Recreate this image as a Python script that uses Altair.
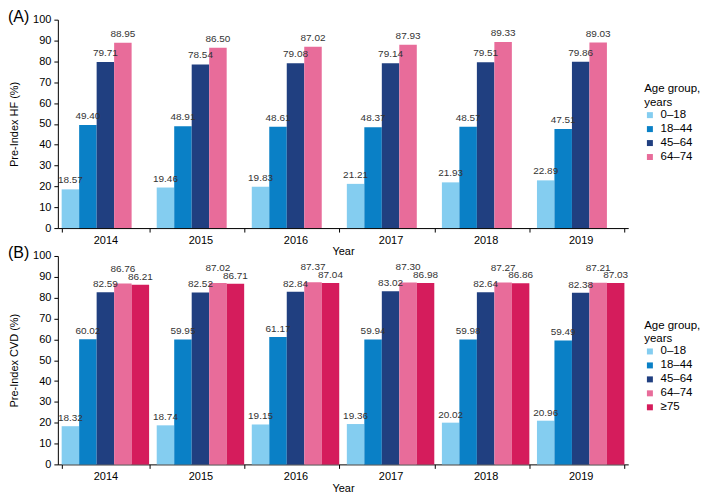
import altair as alt
import pandas as pd

years = ["2014", "2015", "2016", "2017", "2018", "2019"]
groups_a = ["0–18", "18–44", "45–64", "64–74"]
groups_b = ["0–18", "18–44", "45–64", "64–74", "≥75"]
colors_a = ["#84CDF0", "#0A80C6", "#203F80", "#E86C9A"]
colors_b = ["#84CDF0", "#0A80C6", "#203F80", "#E86C9A", "#D51C5C"]

hf_0_18 = [18.57, 19.46, 19.83, 21.21, 21.93, 22.89]
hf_18_44 = [49.40, 48.91, 48.61, 48.37, 48.57, 47.51]
hf_45_64 = [79.71, 78.54, 79.08, 79.14, 79.51, 79.86]
hf_64_74 = [88.95, 86.50, 87.02, 87.93, 89.33, 89.03]

cvd_0_18 = [18.32, 18.74, 19.15, 19.36, 20.02, 20.96]
cvd_18_44 = [60.02, 59.95, 61.17, 59.94, 59.98, 59.49]
cvd_45_64 = [82.59, 82.52, 82.84, 83.02, 82.64, 82.38]
cvd_64_74 = [86.76, 87.02, 87.37, 87.30, 87.27, 87.21]
cvd_75 = [86.21, 86.71, 87.04, 86.98, 86.86, 87.03]


def make_df(groups, series):
    rows = []
    for g, vals in zip(groups, series):
        for y, v in zip(years, vals):
            rows.append({"Year": y, "Group": g, "Value": v})
    return pd.DataFrame(rows)


df_a = make_df(groups_a, [hf_0_18, hf_18_44, hf_45_64, hf_64_74])
df_b = make_df(groups_b, [cvd_0_18, cvd_18_44, cvd_45_64, cvd_64_74, cvd_75])

FONT = "Liberation Sans"
NARROW = "Liberation Sans Narrow, Arial Narrow, Liberation Sans"
W, H = 572, 209
NB = "\u00a0"
LABEL_EXPR = ("datum.value == '0–18' ? '" + NB * 2 + "' + datum.label : "
              "datum.value == '≥75' ? '" + NB * 4 + "' + datum.label : datum.label")


def panel(df, groups, colors, ytitle, tag, raise_group=None):
    x = alt.X("Year:N", sort=years,
              scale=alt.Scale(paddingInner=0.08, paddingOuter=0.04),
              axis=alt.Axis(title="Year", labelAngle=0, tickBand="extent",
                            titlePadding=1, labelPadding=2, tickSize=4))
    y = alt.Y("Value:Q", scale=alt.Scale(domain=[0, 100], nice=False),
              axis=alt.Axis(title=ytitle, values=list(range(0, 101, 10)),
                            grid=False, tickSize=4, labelPadding=3, titlePadding=13))
    xo = alt.XOffset("Group:N", sort=groups, scale=alt.Scale(paddingInner=0, paddingOuter=0))
    color = alt.Color("Group:N", sort=groups,
                      scale=alt.Scale(domain=groups, range=colors),
                      legend=alt.Legend(title=["Age group,", "years"], orient="none",
                                        legendX=W + 16, legendY=64, symbolType="square",
                                        symbolSize=36, symbolStrokeWidth=0,
                                        labelExpr=LABEL_EXPR, labelOffset=5,
                                        rowPadding=1, titlePadding=1))
    base = alt.Chart(df)
    bars = base.mark_bar().encode(x=x, y=y, xOffset=xo, color=color)
    tkw = dict(fontSize=10, font=NARROW, color="#333333", fontWeight="normal")
    if raise_group:
        t1 = base.transform_filter(alt.datum.Group != raise_group).mark_text(
            dy=-8, **tkw).encode(x=x, y=y, xOffset=xo, text=alt.Text("Value:Q", format=".2f"))
        t2 = base.transform_filter(alt.datum.Group == raise_group).mark_text(
            dy=-15, **tkw).encode(x=x, y=y, xOffset=xo, text=alt.Text("Value:Q", format=".2f"))
        texts = t1 + t2
    else:
        texts = base.mark_text(dy=-9, **tkw).encode(
            x=x, y=y, xOffset=xo, text=alt.Text("Value:Q", format=".2f"))
    tag_mark = alt.Chart(pd.DataFrame({"tag": [tag]})).mark_text(
        align="left", baseline="middle", fontSize=16, font=FONT, color="black",
        fontWeight="normal").encode(x=alt.value(-50), y=alt.value(-3), text="tag:N")
    return alt.layer(bars, texts, tag_mark).properties(width=W, height=H)


pa = panel(df_a, groups_a, colors_a, "Pre-Index HF (%)", "(A)")
pb = panel(df_b, groups_b, colors_b, "Pre-Index CVD (%)", "(B)", raise_group="64–74")

chart = alt.vconcat(pa, pb, spacing=28, bounds="flush").resolve_scale(
    color="independent").configure_view(stroke=None).configure_axis(
    labelFont=FONT, titleFont=FONT, labelFontSize=11, titleFontSize=11,
    titleFontWeight="normal", labelColor="black", titleColor="black",
    domainColor="black", tickColor="black").configure_legend(
    titleFont=FONT, labelFont=FONT, titleFontSize=11.5, labelFontSize=11.5,
    titleFontWeight="normal", titleColor="black", labelColor="black").properties(
    padding={"left": 0, "top": 0, "right": 0, "bottom": 0})

chart.save("out.html", embed_options={"renderer": "svg", "actions": False})
